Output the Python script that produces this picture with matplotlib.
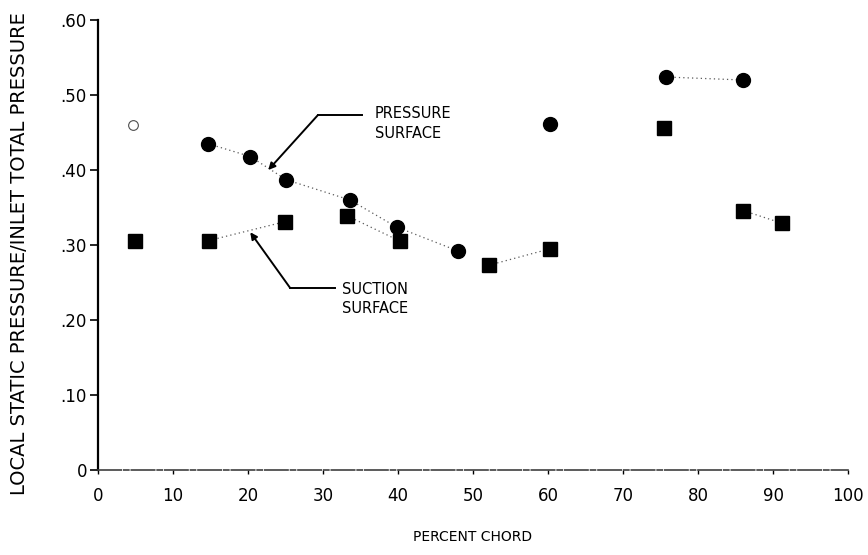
import matplotlib
matplotlib.use('Agg')
import numpy as np
import matplotlib.pyplot as plt

plt.rcParams['font.family'] = ['DejaVu Sans']

# pressure surface (filled circles)
pressure_x = [14.7, 20.3, 25.1, 33.6, 39.8, 48.0, 60.3, 75.7, 86.0]
pressure_y = [0.435, 0.418, 0.387, 0.360, 0.324, 0.292, 0.461, 0.524, 0.520]

# suction surface (filled squares)
suction_x = [4.9, 14.8, 24.9, 33.2, 40.3, 52.1, 60.3, 75.5, 86.0, 91.2]
suction_y = [0.306, 0.306, 0.331, 0.339, 0.305, 0.273, 0.295, 0.456, 0.346, 0.329]

# open symbol near leading edge
open_x = [4.7]
open_y = [0.46]

# which consecutive points are joined by the faired dotted curve
pressure_links = [(0, 6), (7, 9)]
suction_links = [(1, 3), (3, 5), (5, 7), (8, 10)]

x_ticks = [0, 10, 20, 30, 40, 50, 60, 70, 80, 90, 100]
y_ticks = [0, 0.10, 0.20, 0.30, 0.40, 0.50, 0.60]
y_ticklabels = ['0', '.10', '.20', '.30', '.40', '.50', '.60']

fig = plt.figure(figsize=(8.68, 5.55), dpi=100)
ax = fig.add_axes([98 / 868, 85 / 555, 750 / 868, 450 / 555])

line_kw = dict(color='0.35', lw=0.9, ls=(0, (1, 2.5)))
for a, b in pressure_links:
    ax.plot(pressure_x[a:b], pressure_y[a:b], **line_kw)
for a, b in suction_links:
    ax.plot(suction_x[a:b], suction_y[a:b], **line_kw)

ax.plot(pressure_x, pressure_y, 'o', color='black', ms=10, ls='none', zorder=3)
ax.plot(suction_x, suction_y, 's', color='black', ms=9.5, ls='none', zorder=3)
ax.plot(open_x, open_y, 'o', mfc='none', mec='0.3', mew=0.8, ms=7, ls='none')

# leader lines for the two labels
ax.plot([35.2, 29.3], [0.473, 0.473], color='black', lw=1.4)
ax.annotate('', xy=(22.7, 0.400), xytext=(29.3, 0.473),
            arrowprops=dict(arrowstyle='-|>', color='black', lw=1.4,
                            shrinkA=0, shrinkB=0, mutation_scale=10))
ax.text(36.9, 0.462, 'PRESSURE\nSURFACE', fontsize=10.5, va='center', ha='left',
        linespacing=1.4)

ax.plot([31.6, 25.6], [0.243, 0.243], color='black', lw=1.4)
ax.annotate('', xy=(20.3, 0.317), xytext=(25.6, 0.243),
            arrowprops=dict(arrowstyle='-|>', color='black', lw=1.4,
                            shrinkA=0, shrinkB=0, mutation_scale=10))
ax.text(32.5, 0.228, 'SUCTION\nSURFACE', fontsize=10.5, va='center', ha='left',
        linespacing=1.4)

ax.set_xlim(0, 100)
ax.set_ylim(0, 0.60)
ax.set_xticks(x_ticks)
ax.set_yticks(y_ticks)
ax.set_yticklabels(y_ticklabels)
ax.tick_params(axis='x', length=3, width=1, pad=9, labelsize=12)
ax.tick_params(axis='y', length=6, width=1.2, pad=2, labelsize=12)

for side in ['top', 'right']:
    ax.spines[side].set_visible(False)
ax.spines['left'].set_linewidth(1.6)
ax.spines['bottom'].set_linewidth(1.2)
ax.spines['bottom'].set_color('0.25')
ax.spines['bottom'].set_linestyle((0, (14, 1.5, 3, 1.5)))

fig.text(20 / 868, 1 - 254 / 555, 'LOCAL STATIC PRESSURE/INLET TOTAL PRESSURE',
         rotation=90, ha='center', va='center', fontsize=14)
fig.text(473 / 868, 1 - 537 / 555, 'PERCENT CHORD', ha='center', va='center',
         fontsize=10)

fig.savefig('out.png', dpi=100)
